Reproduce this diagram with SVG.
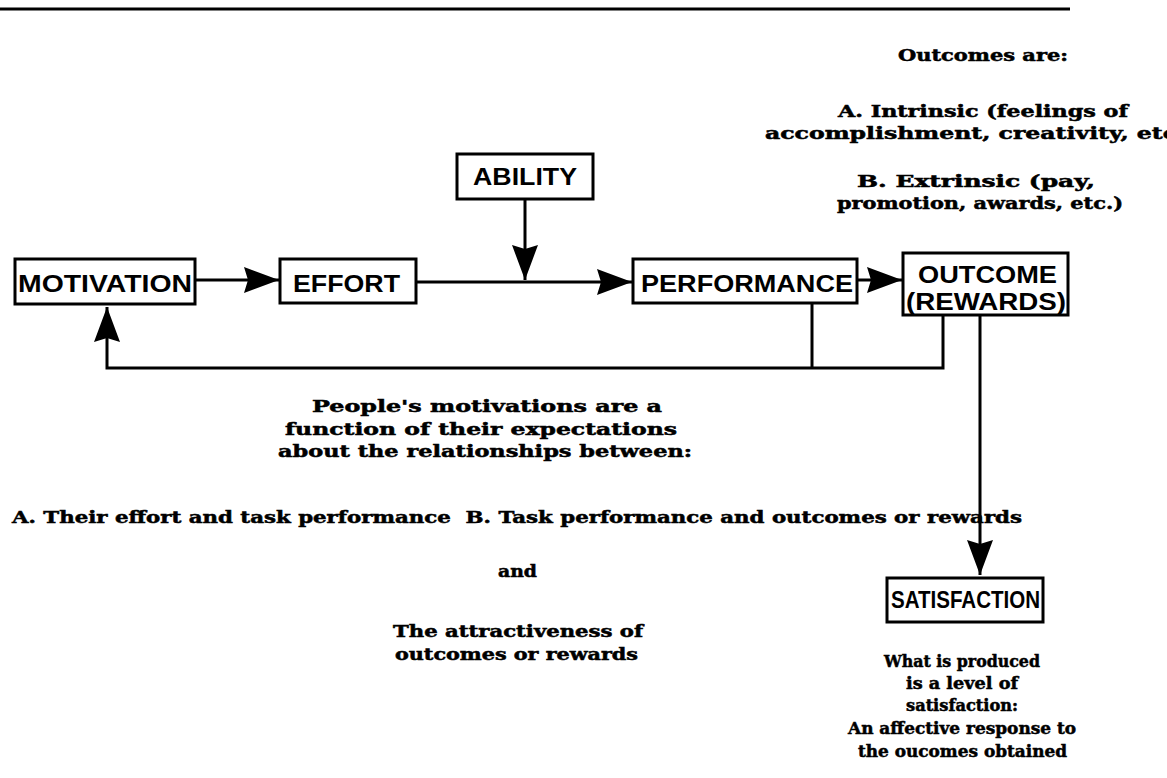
<svg xmlns="http://www.w3.org/2000/svg" width="1167" height="778" viewBox="0 0 1167 778">
<style>
.box{fill:#fff;stroke:#000;stroke-width:3}
.lbl{font-family:"Liberation Sans",Arial,sans-serif;font-weight:bold;font-size:24px;fill:#000}
.t{font-family:"DejaVu Serif","Liberation Serif",serif;font-weight:bold;font-size:16px;fill:#000;stroke:#000;stroke-width:0.5;white-space:pre}
.c{stroke:#000;stroke-width:3;fill:none}
</style>
<defs>
<marker id="ah" markerUnits="userSpaceOnUse" markerWidth="36" markerHeight="28" refX="35" refY="14" orient="auto" viewBox="0 0 36 28">
<path d="M0,1 L4,14 L0,27 L35,14 Z" fill="#000"/>
</marker>
</defs>
<rect width="1167" height="778" fill="#fff"/>
<line x1="0" y1="9" x2="1070" y2="9" stroke="#000" stroke-width="3"/>

<g id="connectors">
<line class="c" x1="195" y1="280" x2="279" y2="280" marker-end="url(#ah)"/>
<line class="c" x1="416" y1="282" x2="632" y2="282" marker-end="url(#ah)"/>
<line class="c" x1="525" y1="199" x2="525" y2="280" marker-end="url(#ah)"/>
<line class="c" x1="857" y1="280" x2="902" y2="280" marker-end="url(#ah)"/>
<polyline class="c" points="812,303 812,368"/>
<polyline class="c" points="943,315 943,368 107,368 107,307" marker-end="url(#ah)"/>
<line class="c" x1="980" y1="315" x2="980" y2="575" marker-end="url(#ah)"/>
</g>

<g id="motivation">
<rect class="box" x="15" y="259" width="180" height="45"/>
<text class="lbl" x="18" y="292" textLength="174" lengthAdjust="spacingAndGlyphs">MOTIVATION</text>
</g>
<g id="effort">
<rect class="box" x="280" y="259" width="136" height="44"/>
<text class="lbl" x="293" y="292" textLength="107" lengthAdjust="spacingAndGlyphs">EFFORT</text>
</g>
<g id="ability">
<rect class="box" x="457" y="154" width="136" height="45"/>
<text class="lbl" x="473" y="185" textLength="104" lengthAdjust="spacingAndGlyphs">ABILITY</text>
</g>
<g id="performance">
<rect class="box" x="633" y="259" width="224" height="44"/>
<text class="lbl" x="641" y="292" textLength="212" lengthAdjust="spacingAndGlyphs">PERFORMANCE</text>
</g>
<g id="outcome">
<rect class="box" x="903" y="253" width="165" height="62"/>
<text class="lbl" x="918" y="283" textLength="139" lengthAdjust="spacingAndGlyphs">OUTCOME</text>
<text class="lbl" x="906" y="310" textLength="160" lengthAdjust="spacingAndGlyphs">(REWARDS)</text>
</g>
<g id="satisfaction">
<rect class="box" x="887" y="578" width="156" height="44"/>
<text class="lbl" x="891" y="608" textLength="149" lengthAdjust="spacingAndGlyphs">SATISFACTION</text>
</g>

<g id="outcomes-note">
<text class="t" x="898" y="61" textLength="170" lengthAdjust="spacingAndGlyphs">Outcomes are:</text>
<text class="t" x="838" y="117" textLength="290" lengthAdjust="spacingAndGlyphs">A. Intrinsic (feelings of</text>
<text class="t" x="765" y="139" textLength="412" lengthAdjust="spacingAndGlyphs">accomplishment, creativity, etc</text>
<text class="t" x="857" y="187" textLength="238" lengthAdjust="spacingAndGlyphs">B. Extrinsic (pay,</text>
<text class="t" x="837" y="209" textLength="286" lengthAdjust="spacingAndGlyphs">promotion, awards, etc.)</text>
</g>

<g id="expectancy-note">
<text class="t" x="312" y="412" textLength="350" lengthAdjust="spacingAndGlyphs">People's motivations are a</text>
<text class="t" x="285" y="435" textLength="392" lengthAdjust="spacingAndGlyphs">function of their expectations</text>
<text class="t" x="278" y="457" textLength="414" lengthAdjust="spacingAndGlyphs">about the relationships between:</text>
<text class="t" x="12" y="523" textLength="1010" lengthAdjust="spacingAndGlyphs">A. Their effort and task performance  B. Task performance and outcomes or rewards</text>
<text class="t" x="498" y="577" textLength="39" lengthAdjust="spacingAndGlyphs">and</text>
<text class="t" x="393" y="637" textLength="250" lengthAdjust="spacingAndGlyphs">The attractiveness of</text>
<text class="t" x="395" y="660" textLength="243" lengthAdjust="spacingAndGlyphs">outcomes or rewards</text>
</g>

<g id="satisfaction-note">
<text class="t" x="884" y="667" textLength="156" lengthAdjust="spacingAndGlyphs">What is produced</text>
<text class="t" x="906" y="689" textLength="112" lengthAdjust="spacingAndGlyphs">is a level of</text>
<text class="t" x="906" y="711" textLength="112" lengthAdjust="spacingAndGlyphs">satisfaction:</text>
<text class="t" x="848" y="734" textLength="228" lengthAdjust="spacingAndGlyphs">An affective response to</text>
<text class="t" x="858" y="757" textLength="209" lengthAdjust="spacingAndGlyphs">the oucomes obtained</text>
</g>
</svg>
